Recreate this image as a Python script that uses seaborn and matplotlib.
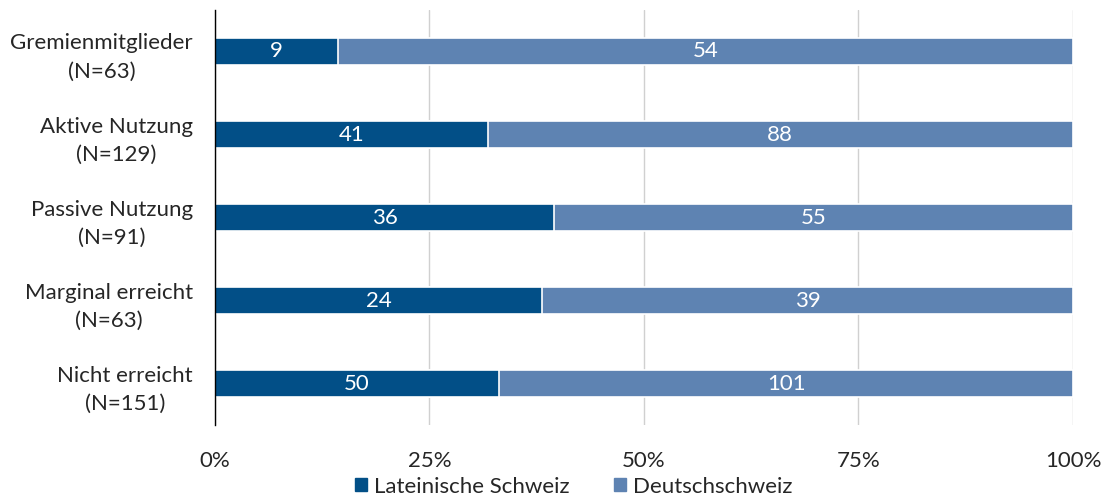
import numpy as np
import pandas as pd
import matplotlib.pyplot as plt
import seaborn as sns
from matplotlib.patches import Patch

sns.set_style("white")
plt.rcParams["font.family"] = ["Lato", "DejaVu Sans"]

categories = ["Gremienmitglieder", "Aktive Nutzung", "Passive Nutzung",
              "Marginal erreicht", "Nicht erreicht"]
lateinisch = [9, 41, 36, 24, 50]
deutsch = [54, 88, 55, 39, 101]
xticks = [0, 25, 50, 75, 100]

dark = "#024F87"
light = "#5E83B2"

n = [a + b for a, b in zip(lateinisch, deutsch)]
labels = [f"{c}\n(N={k})" for c, k in zip(categories, n)]
df = pd.DataFrame({"label": labels, "lat": lateinisch, "deu": deutsch, "n": n})
df["lat_pct"] = df["lat"] / df["n"] * 100
df["total_pct"] = (df["lat"] + df["deu"]) / df["n"] * 100

fig = plt.figure(figsize=(11.03, 4.95), dpi=100)
ax = fig.add_axes([0.1949, 0.1414, 0.7779, 0.8384])

# light bar = full 100%, dark bar drawn on top = Lateinische Schweiz share
sns.barplot(data=df, x="total_pct", y="label", color=light, width=0.33,
            edgecolor="white", linewidth=1.2, saturation=1, ax=ax, zorder=3)
sns.barplot(data=df, x="lat_pct", y="label", color=dark, width=0.33,
            edgecolor="white", linewidth=1.2, saturation=1, ax=ax, zorder=4)

for i, row in df.iterrows():
    ax.text(row["lat_pct"] / 2, i, str(row["lat"]), color="white",
            ha="center", va="center", fontsize=16, zorder=5)
    ax.text((row["lat_pct"] + row["total_pct"]) / 2, i, str(row["deu"]),
            color="white", ha="center", va="center", fontsize=16, zorder=5)

ax.set_xlim(0, 100)
ax.set_ylim(4.5, -0.5)
ax.set_xticks(xticks)
ax.set_xticklabels([f"{t}%" for t in xticks], fontsize=16)
ax.tick_params(axis="y", labelsize=16, length=0, pad=16)
ax.tick_params(axis="x", length=0, pad=19)
for lbl in ax.get_yticklabels():
    lbl.set_multialignment("center")
    lbl.set_linespacing(1.55)
ax.set_xlabel("")
ax.set_ylabel("")
ax.xaxis.grid(True, color="#D0D0D0", linewidth=1, zorder=0)
for s in ["top", "right", "bottom"]:
    ax.spines[s].set_visible(False)
ax.spines["left"].set_color("black")
ax.spines["left"].set_linewidth(1)
ax.spines["left"].set_zorder(6)

handles = [Patch(color=dark, label="Lateinische Schweiz"),
           Patch(color=light, label="Deutschschweiz")]
fig.legend(handles=handles, loc="center", bbox_to_anchor=(0.52, 0.017),
           ncol=2, frameon=False, fontsize=16, handlelength=0.55,
           handleheight=0.55, handletextpad=0.3, columnspacing=2.0)

fig.savefig("out.png", dpi=100)
